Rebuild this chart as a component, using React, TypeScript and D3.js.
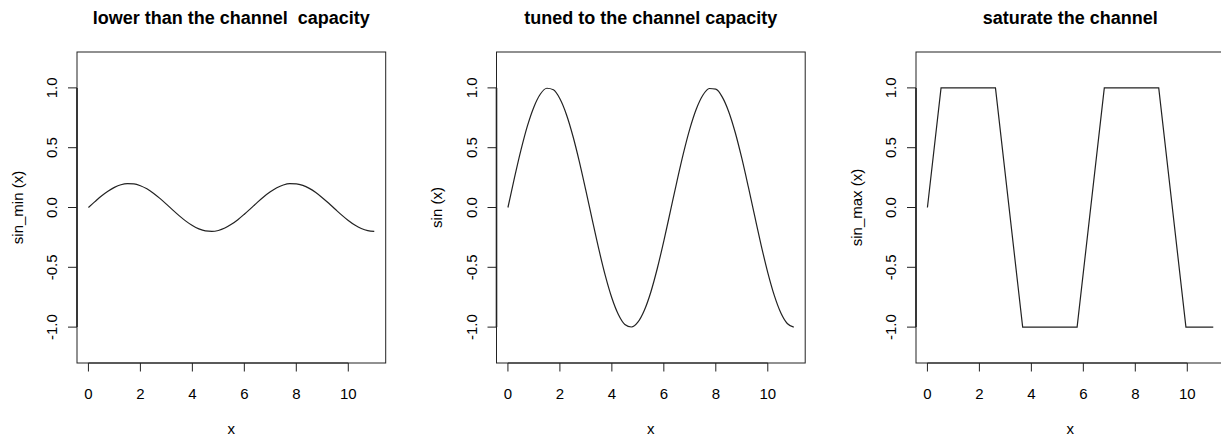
import React, { useEffect, useRef } from 'react';
import * as d3 from 'd3';

// sample points along x (0 .. 11)
const xVals = [
  0, 0.25, 0.5, 0.75, 1, 1.25, 1.5, 1.75, 2, 2.25, 2.5, 2.75, 3, 3.25, 3.5, 3.75,
  4, 4.25, 4.5, 4.75, 5, 5.25, 5.5, 5.75, 6, 6.25, 6.5, 6.75, 7, 7.25, 7.5, 7.75,
  8, 8.25, 8.5, 8.75, 9, 9.25, 9.5, 9.75, 10, 10.25, 10.5, 10.75, 11,
];

const sinMin = [
  0, 0.049, 0.096, 0.136, 0.168, 0.19, 0.199, 0.197, 0.182, 0.156, 0.12, 0.076, 0.028, -0.022, -0.07, -0.114,
  -0.151, -0.179, -0.196, -0.2, -0.192, -0.172, -0.141, -0.102, -0.056, -0.007, 0.043, 0.09, 0.131, 0.165, 0.188, 0.199,
  0.198, 0.185, 0.16, 0.125, 0.082, 0.035, -0.015, -0.064, -0.109, -0.147, -0.176, -0.194, -0.2,
];

const sinVals = [
  0, 0.247, 0.479, 0.682, 0.841, 0.949, 0.997, 0.984, 0.909, 0.778, 0.598, 0.382, 0.141, -0.108, -0.351, -0.572,
  -0.757, -0.895, -0.978, -0.999, -0.959, -0.859, -0.706, -0.508, -0.279, -0.033, 0.215, 0.45, 0.657, 0.823, 0.938, 0.995,
  0.989, 0.923, 0.799, 0.625, 0.412, 0.174, -0.075, -0.32, -0.544, -0.735, -0.88, -0.97, -1.0,
];

// saturated signal: corner points where the clipped curve meets +-1
const sinMaxX = [0, 0.524, 2.618, 3.665, 5.76, 6.807, 8.901, 9.948, 11];
const sinMax = [0, 1, 1, -1, -1, 1, 1, -1, -1];

const titles = ['lower than the channel  capacity', 'tuned to the channel capacity', 'saturate the channel'];
const yLabels = ['sin_min (x)', 'sin (x)', 'sin_max (x)'];
const seriesX = [xVals, xVals, sinMaxX];
const seriesY = [sinMin, sinVals, sinMax];

const xTicks = [0, 2, 4, 6, 8, 10];
const yTicks = [-1, -0.5, 0, 0.5, 1];

const FONT = '"Liberation Sans", Arial, Helvetica, sans-serif';

const App: React.FC = () => {
  const ref = useRef<SVGSVGElement>(null);

  useEffect(() => {
    if (!ref.current) return;
    const svg = d3.select(ref.current);
    svg.selectAll('*').remove();

    const panelStep = 419.5;
    const boxW = 308.7;
    const top = 52;
    const bottom = 363;

    seriesY.forEach((vals, i) => {
      const left = 77 + i * panelStep;
      const right = left + boxW;
      const xs = seriesX[i];

      // R's default 4% axis expansion
      const x = d3.scaleLinear().domain([-0.44, 11.44]).range([left, right]);
      const y = d3.scaleLinear().domain([-1.3, 1.3]).range([bottom, top]);

      const g = svg.append('g');

      // plot box
      g.append('rect')
        .attr('x', left)
        .attr('y', top)
        .attr('width', boxW)
        .attr('height', bottom - top)
        .attr('fill', 'none')
        .attr('stroke', '#222')
        .attr('stroke-width', 1);

      // x axis
      g.append('line')
        .attr('x1', x(0)).attr('x2', x(10))
        .attr('y1', bottom).attr('y2', bottom)
        .attr('stroke', '#222');
      xTicks.forEach(t => {
        g.append('line')
          .attr('x1', x(t)).attr('x2', x(t))
          .attr('y1', bottom).attr('y2', bottom + 8.5)
          .attr('stroke', '#222');
        g.append('text')
          .attr('x', x(t))
          .attr('y', bottom + 36)
          .attr('text-anchor', 'middle')
          .style('font-family', FONT)
          .style('font-size', '15px')
          .text(String(t));
      });

      // y axis
      g.append('line')
        .attr('x1', left).attr('x2', left)
        .attr('y1', y(-1)).attr('y2', y(1))
        .attr('stroke', '#222')
        .attr('stroke-width', 1.6);
      yTicks.forEach(t => {
        g.append('line')
          .attr('x1', left - 9).attr('x2', left)
          .attr('y1', y(t)).attr('y2', y(t))
          .attr('stroke', '#222');
        g.append('text')
          .attr('transform', `translate(${left - 19.7},${y(t)}) rotate(-90)`)
          .attr('text-anchor', 'middle')
          .style('font-family', FONT)
          .style('font-size', '15px')
          .text(d3.format('.1f')(t).replace('−', '-'));
      });

      // axis titles
      g.append('text')
        .attr('x', (left + right) / 2)
        .attr('y', bottom + 71)
        .attr('text-anchor', 'middle')
        .style('font-family', FONT)
        .style('font-size', '15px')
        .text('x');

      g.append('text')
        .attr('transform', `translate(${left - 54.5},${(top + bottom) / 2}) rotate(-90)`)
        .attr('text-anchor', 'middle')
        .style('font-family', FONT)
        .style('font-size', '15px')
        .text(yLabels[i]);

      // main title
      g.append('text')
        .attr('x', (left + right) / 2)
        .attr('y', 24)
        .attr('text-anchor', 'middle')
        .style('font-family', FONT)
        .style('font-size', '18px')
        .style('font-weight', 'bold')
        .style('white-space', 'pre')
        .text(titles[i]);

      const line = d3.line<number>()
        .x((_, j) => x(xs[j]))
        .y(d => y(d))
        .curve(i === 2 ? d3.curveLinear : d3.curveMonotoneX);

      g.append('path')
        .datum(vals)
        .attr('fill', 'none')
        .attr('stroke', '#222')
        .attr('stroke-width', 1.2)
        .attr('d', line);
    });
  }, []);

  return (
    <svg
      ref={ref}
      width={1221}
      height={439}
      style={{ position: 'absolute', left: 0, top: 0, background: '#fff' }}
    ></svg>
  );
};

export default App;
